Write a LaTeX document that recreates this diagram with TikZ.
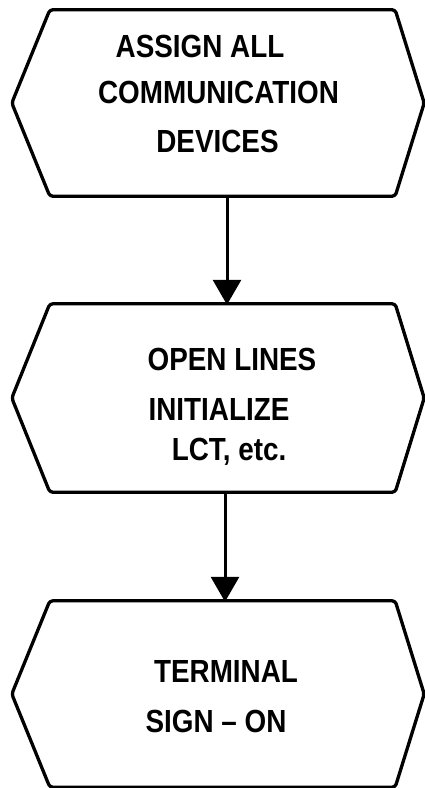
\documentclass[tikz,border=0pt]{standalone}
\usepackage{fontspec}
\setmainfont{Liberation Sans}
\newfontfamily\condfont[FakeStretch=0.87,Ligatures=TeX]{Liberation Sans}
\usetikzlibrary{arrows.meta,calc}
\tikzset{
  box/.style={minimum width=345pt, minimum height=186pt, inner sep=0pt, draw=none},
  hexline/.style={line width=3.3pt, rounded corners=3pt, line join=round},
  lbl/.style={anchor=base, inner sep=0pt, font=\condfont\bfseries\fontsize{32}{36}\selectfont},
  arr/.style={line width=3pt, -{Triangle[width=28pt,length=25pt]}, shorten >=-1pt}
}
\newcommand{\hexagon}[1]{%
  \draw[hexline] (#1.north west) -- (#1.north east) -- ($(#1.east)+(29pt,0)$)
    -- (#1.south east) -- (#1.south west) -- ($(#1.west)+(-38pt,0)$) -- cycle;}
\begin{document}
\begin{tikzpicture}[x=1pt,y=-1pt]
\useasboundingbox (0,0) rectangle (425,788);
\node[box] (h1) at (222.5,103) {};
\node[box, minimum height=188pt] (h2) at (222.5,398) {};
\node[box] (h3) at (222.5,694) {};
\hexagon{h1}
\hexagon{h2}
\hexagon{h3}
\node[lbl] (t11) at (200,57) {ASSIGN ALL};
\node[lbl] (t12) at (218.5,103) {COMMUNICATION};
\node[lbl] (t13) at (217.5,152) {DEVICES};
\node[lbl] (t21) at (232,370) {OPEN LINES};
\node[lbl] (t22) at (219,420) {INITIALIZE};
\node[lbl] (t23) at (229,460) {LCT, etc.};
\node[lbl] (t31) at (226,682) {TERMINAL};
\node[lbl] (t32) at (216,732) {SIGN – ON};
\draw[arr] ([xshift=4.5pt]h1.south) -- ([xshift=4.5pt]h2.north);
\draw[arr] ([xshift=2.5pt]h2.south) -- ([xshift=2.5pt]h3.north);
\end{tikzpicture}
\end{document}
